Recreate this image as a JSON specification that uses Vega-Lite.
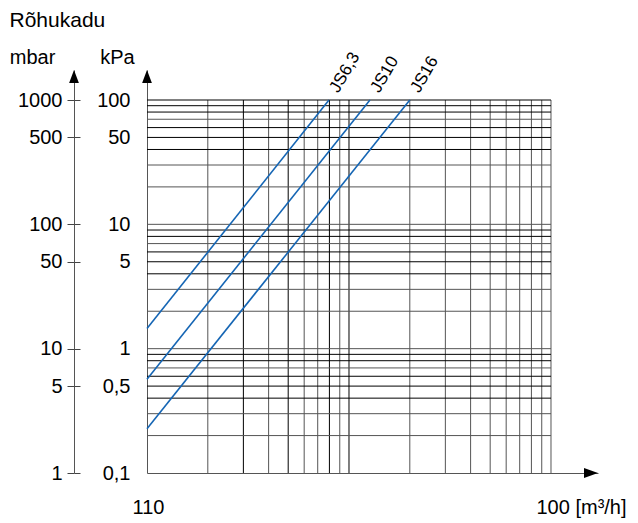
{
  "$schema": "https://vega.github.io/schema/vega-lite/v6.json",
  "width": 451,
  "height": 403,
  "autosize": "none",
  "padding": {"left": 147, "top": 70, "right": 40, "bottom": 50},
  "background": "white",
  "config": {
    "view": {"stroke": null},
    "font": "Liberation Sans",
    "axis": {"labelFont": "Liberation Sans", "titleFont": "Liberation Sans", "labelColor": "#000", "titleColor": "#000", "titleFontWeight": "normal", "labelFontSize": 20, "titleFontSize": 20, "labelFlush": false, "labelOverlap": false, "grid": false},
    "text": {"font": "Liberation Sans"}
  },
  "datasets": {
    "vgrey": [{"q": 2}, {"q": 4}, {"q": 6}, {"q": 7}, {"q": 9}, {"q": 20}, {"q": 30}, {"q": 40}, {"q": 50}, {"q": 60}, {"q": 70}, {"q": 80}, {"q": 90}, {"q": 100}],
    "vblack": [{"q": 3}, {"q": 5}, {"q": 8}, {"q": 10}],
    "hgrey": [{"p": 0.2}, {"p": 0.3}, {"p": 0.7}, {"p": 1}, {"p": 2}, {"p": 3}, {"p": 7}, {"p": 10}, {"p": 20}, {"p": 30}, {"p": 70}],
    "hblack": [{"p": 0.4}, {"p": 0.5}, {"p": 0.6}, {"p": 0.8}, {"p": 0.9}, {"p": 4}, {"p": 5}, {"p": 6}, {"p": 8}, {"p": 9}, {"p": 40}, {"p": 50}, {"p": 60}, {"p": 80}, {"p": 90}, {"p": 100}],
    "curves": [
      {"s": "JS6,3", "q": 1, "p": 1.45}, {"s": "JS6,3", "q": 7.96, "p": 100},
      {"s": "JS10", "q": 1, "p": 0.567}, {"s": "JS10", "q": 12.7, "p": 100},
      {"s": "JS16", "q": 1, "p": 0.227}, {"s": "JS16", "q": 20, "p": 100}
    ]
  },
  "resolve": {"axis": {"y": "independent"}},
  "layer": [
    {
      "data": {"name": "vgrey"},
      "mark": {"type": "rule", "color": "#555", "strokeWidth": 1},
      "encoding": {
        "x": {"field": "q", "type": "quantitative", "scale": {"type": "log", "domain": [1, 170.9], "nice": false},
          "axis": {"orient": "bottom", "values": [1, 100], "labelExpr": "datum.value == 1 ? '110' : '100 [m³/h]'", "ticks": false, "domain": true, "domainColor": "#555", "labelAlign": "left", "labelOffset": -15, "labelPadding": 24, "title": null}},
        "y": {"datum": 0.1, "type": "quantitative", "scale": {"type": "log", "domain": [0.1, 174.3], "nice": false}, "axis": null},
        "y2": {"datum": 100}
      }
    },
    {
      "data": {"name": "vblack"},
      "mark": {"type": "rule", "color": "#000", "strokeWidth": 1},
      "encoding": {
        "x": {"field": "q", "type": "quantitative", "scale": {"type": "log", "domain": [1, 170.9], "nice": false}},
        "y": {"datum": 0.1, "type": "quantitative", "scale": {"type": "log", "domain": [0.1, 174.3], "nice": false}, "axis": null},
        "y2": {"datum": 100}
      }
    },
    {
      "data": {"name": "hgrey"},
      "mark": {"type": "rule", "color": "#555", "strokeWidth": 1},
      "encoding": {
        "y": {"field": "p", "type": "quantitative", "scale": {"type": "log", "domain": [0.1, 174.3], "nice": false},
          "axis": {"orient": "left", "offset": 73, "values": [0.1, 0.5, 1, 5, 10, 50, 100], "labelExpr": "toString(round(datum.value*10))", "tickSize": 7, "tickColor": "#444", "domainColor": "#555", "labelPadding": 5, "title": "mbar", "titleAngle": 0, "titleAlign": "center", "titleBaseline": "alphabetic", "titleX": -42, "titleY": -7}},
        "x": {"datum": 1, "type": "quantitative", "scale": {"type": "log", "domain": [1, 170.9], "nice": false}},
        "x2": {"datum": 100}
      }
    },
    {
      "data": {"name": "hblack"},
      "mark": {"type": "rule", "color": "#000", "strokeWidth": 1},
      "encoding": {
        "y": {"field": "p", "type": "quantitative", "scale": {"type": "log", "domain": [0.1, 174.3], "nice": false},
          "axis": {"orient": "left", "offset": 73, "values": [0.1, 0.5, 1, 5, 10, 50, 100], "labels": false, "domain": false, "tickSize": -6, "tickColor": "#444", "title": "Rõhukadu", "titleAngle": 0, "titleAlign": "left", "titleBaseline": "alphabetic", "titleFontSize": 21, "titleX": -65, "titleY": -44}},
        "x": {"datum": 1, "type": "quantitative", "scale": {"type": "log", "domain": [1, 170.9], "nice": false}},
        "x2": {"datum": 100}
      }
    },
    {
      "data": {"name": "curves"},
      "mark": {"type": "line", "color": "#1565b4", "strokeWidth": 1.6},
      "encoding": {
        "detail": {"field": "s"},
        "x": {"field": "q", "type": "quantitative", "scale": {"type": "log", "domain": [1, 170.9], "nice": false}},
        "y": {"field": "p", "type": "quantitative", "scale": {"type": "log", "domain": [0.1, 174.3], "nice": false},
          "axis": {"orient": "left", "values": [0.1, 0.5, 1, 5, 10, 50, 100], "labelExpr": "replace(toString(datum.value), '.', ',')", "ticks": false, "domainColor": "#555", "labelPadding": 17, "title": "kPa", "titleAngle": 0, "titleAlign": "center", "titleBaseline": "alphabetic", "titleX": -30, "titleY": -7}}
      }
    },
    {
      "data": {"name": "curves"},
      "transform": [{"filter": "datum.p == 100"}],
      "mark": {"type": "text", "angle": 300, "align": "left", "baseline": "middle", "dx": 10, "fontSize": 17, "color": "#000"},
      "encoding": {
        "text": {"field": "s"},
        "x": {"field": "q", "type": "quantitative", "scale": {"type": "log", "domain": [1, 170.9], "nice": false}},
        "y": {"field": "p", "type": "quantitative", "scale": {"type": "log", "domain": [0.1, 174.3], "nice": false}, "axis": null}
      }
    },
    {
      "data": {"values": [{"q": 1, "p": 174.3}, {"q": 0.435, "p": 174.3}]},
      "mark": {"type": "point", "filled": true, "color": "#000", "opacity": 1, "size": 169, "shape": "M0,0L0.75,2L-0.75,2Z"},
      "encoding": {
        "x": {"field": "q", "type": "quantitative", "scale": {"type": "log", "domain": [1, 170.9], "nice": false}},
        "y": {"field": "p", "type": "quantitative", "scale": {"type": "log", "domain": [0.1, 174.3], "nice": false}, "axis": null}
      }
    },
    {
      "data": {"values": [{"q": 170.9, "p": 0.1}]},
      "mark": {"type": "point", "filled": true, "color": "#000", "opacity": 1, "size": 196, "shape": "M0,0L-2,-0.7L-2,0.7Z"},
      "encoding": {
        "x": {"field": "q", "type": "quantitative", "scale": {"type": "log", "domain": [1, 170.9], "nice": false}},
        "y": {"field": "p", "type": "quantitative", "scale": {"type": "log", "domain": [0.1, 174.3], "nice": false}, "axis": null}
      }
    }
  ]
}
